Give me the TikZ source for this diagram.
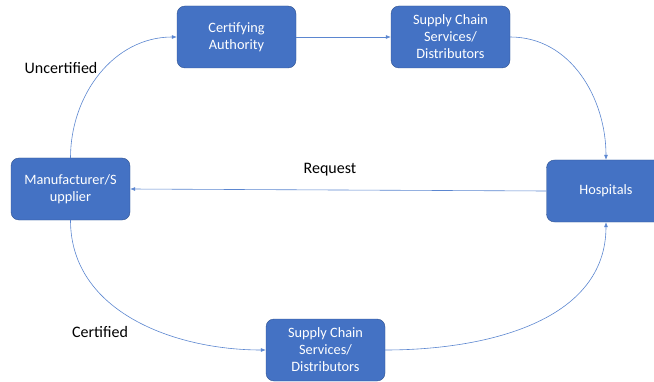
\documentclass[tikz,border=0pt]{standalone}
\usepackage{fontspec}
\setmainfont{Carlito}
\usetikzlibrary{arrows.meta}

\definecolor{cajaAzul}{HTML}{4472C4}
\definecolor{bordeAzul}{HTML}{2F528F}
\definecolor{lineaAzul}{HTML}{5B86D0}

\begin{document}
\begin{tikzpicture}[x=1pt,y=1pt]
    \tikzset{bloque/.style = {shape=rectangle,rounded corners=8pt,draw=bordeAzul,fill=cajaAzul,text=white,
        minimum width=119pt,minimum height=62pt,align=center,font=\fontsize{14.3}{17}\selectfont}}
    \tikzset{etiqueta/.style = {font=\fontsize{16}{19}\selectfont,text=black}}

    \tikzset{flecha/.style = {-{Latex[length=5pt,width=4pt]},draw=lineaAzul,line width=0.6pt}}

    \useasboundingbox (0,0) rectangle (654,381);
    \clip (0,0) rectangle (654,381);

    \node[bloque] (certAuth) at (236.5,344) {Certifying\\Authority};
    \node[bloque] (supplyTop) at (450.5,344) {Supply Chain\\Services/\\Distributors};
    \node[bloque] (hospitals) at (606,190) {Hospitals};
    \node[bloque] (manufacturer) at (70.5,192) {Manufacturer/S\\upplier};
    \node[bloque] (supplyBot) at (325.5,31) {Supply Chain\\Services/\\Distributors};

    \node[etiqueta] (uncert) at (61,313) {Uncertified};
    \node[etiqueta] (cert) at (100,49) {Certified};
    \node[etiqueta] (request) at (330,211) {Request};

    \draw[flecha] (manufacturer.north) to[out=90,in=180] (certAuth.west);
    \draw[flecha] (certAuth) -- (supplyTop);
    \draw[flecha] (supplyTop.east) to[out=0,in=90] (hospitals.north);

    \draw[flecha] (hospitals.west) -- (manufacturer.east);

    \draw[flecha] (manufacturer.south) to[out=-90,in=180] (supplyBot.west);
    \draw[flecha] (supplyBot.east) to[out=0,in=-90] (hospitals.south);

\end{tikzpicture}
\end{document}
